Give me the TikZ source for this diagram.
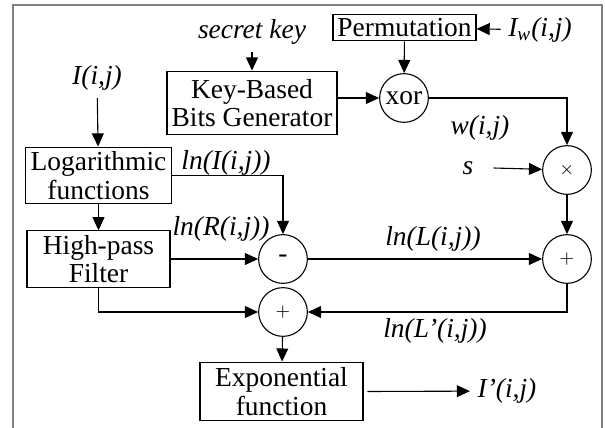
\documentclass[tikz,border=0pt]{standalone}
\usepackage{fontspec}
\setmainfont{Liberation Serif}
\usetikzlibrary{arrows.meta}

\begin{document}
\begin{tikzpicture}[x=0.016cm,y=-0.016cm,
		every node/.style={font=\fontsize{12.5}{13}\selectfont},
		block/.style={draw,line width=0.5pt,align=center,inner sep=0pt},
		sum/.style={draw,line width=0.5pt,circle,minimum size=0.78cm,inner sep=0pt},
		lbl/.style={font=\fontsize{12.5}{13}\selectfont\itshape},
		flow/.style={line width=0.5pt,-{Triangle[length=2.1mm,width=1.9mm]}}]
				\useasboundingbox (0,0) rectangle (605,428);
				\draw[gray,line width=0.8pt] (13,428) -- (13,5) -- (602,5) -- (602,428);
				\node[block,minimum width=2.29cm,minimum height=0.43cm] (perm) at (404.5,27.5) {Permutation};
				\node[lbl] (iw) at (540,30) {I\textsubscript{w}(i,j)};
				\node[lbl] (key) at (252,32) {secret key};
				\node[block,minimum width=2.72cm,minimum height=1.02cm] (kbg) at (252,103) {Key-Based\\Bits Generator};
				\node[sum] (xor) at (404,98) {xor};
				\node[sum] (mul) at (567,170) {\footnotesize$\times$};
				\node[lbl] (w) at (480,128) {w(i,j)};
				\node[lbl] (s) at (468,168) {s};
				\node[lbl] (I) at (97,78) {I(i,j)};
				\node[block,minimum width=2.35cm,minimum height=0.91cm] (log) at (98.5,175.5) {Logarithmic\\functions};
				\node[lbl] (lnI) at (226,163) {ln(I(i,j))};
				\node[block,minimum width=2.29cm,minimum height=0.9cm] (hp) at (98.5,259) {High-pass\\Filter};
				\node[sum] (sub) at (283,259) {-};
				\node[lbl] (lnR) at (221,229) {ln(R(i,j))};
				\node[sum] (add1) at (567,259) {\footnotesize$+$};
				\node[lbl] (lnL) at (433,239) {ln(L(i,j))};
				\node[sum] (add2) at (283,312) {\footnotesize$+$};
				\node[lbl] (lnLp) at (435,331) {ln(L'(i,j))};
				\node[block,minimum width=2.61cm,minimum height=0.94cm] (exp) at (281.5,391.5) {Exponential\\function};
				\node[lbl] (Iout) at (507,391) {I'(i,j)};
				\draw[flow] (iw) -- (perm);
				\draw[flow] (key) -- (kbg);
				\draw[flow] (perm) -- (xor);
				\draw[flow] (kbg.east |- xor) -- (xor);
				\draw[flow] (xor) -| (mul);
				\draw[flow] ([xshift=0.2cm]s.east) -- (mul);
				\draw[flow] (I) -- (log);
				\draw[flow] (log) -- (hp);
				\draw[flow] (log.east) -| (sub);
				\draw[flow] (hp) -- (sub);
				\draw[flow] (sub) -- (add1);
				\draw[flow] (mul) -- (add1);
				\draw[flow] (hp.south) |- (add2);
				\draw[flow] (add1.south) |- (add2);
				\draw[flow] (add2) -- (exp);
				\draw[flow] ([xshift=0.06cm]exp.east) -- (Iout);
			\end{tikzpicture}
\end{document}
